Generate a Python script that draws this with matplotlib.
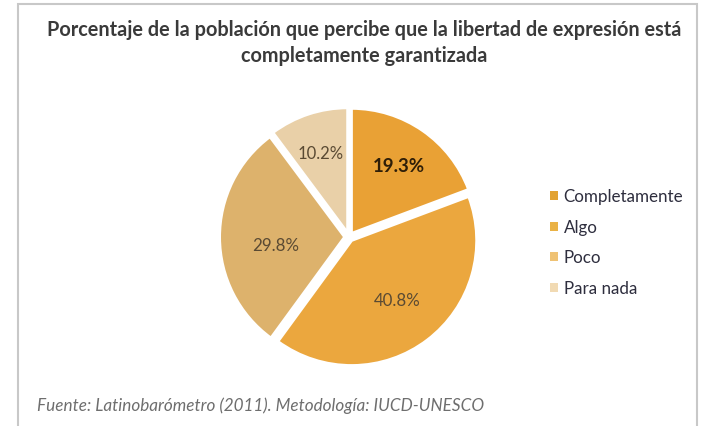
import matplotlib.pyplot as plt
from matplotlib.patches import Rectangle, Patch

categories = ['Completamente', 'Algo', 'Poco', 'Para nada']
values = [19.3, 40.8, 29.8, 10.2]
slice_colors = ['#E9A135', '#EBA73E', '#DDB26C', '#E9D0A8']
legend_colors = ['#E2A232', '#EAB245', '#EFC274', '#F1DAB3']
title_lines = ['Porcentaje de la población que percibe que la libertad de expresión está',
               'completamente garantizada']
source = 'Fuente: Latinobarómetro (2011). Metodología: IUCD-UNESCO'

plt.rcParams['font.family'] = ['Lato', 'DejaVu Sans']

W, H = 708, 427
fig = plt.figure(figsize=(W / 100, H / 100), dpi=100)
renderer = fig.canvas.get_renderer()


def fit_width(txt, target_px):
    # scale the font so the text is as wide as in the reference
    w = txt.get_window_extent(renderer).width
    txt.set_fontsize(txt.get_fontsize() * target_px / w)


def px(x, y):
    return x / W, 1 - y / H


# frame of the chart area
fig.patches.append(Rectangle((18 / W, -0.05), (697 - 18) / W, 1.05 - 5 / H,
                             transform=fig.transFigure, fill=False,
                             edgecolor='#C8C8C8', linewidth=1.5))

t1 = fig.text(*px(364, 30), title_lines[0], ha='center', va='center',
              fontsize=12, fontweight='bold', color='#3A3A3A')
fit_width(t1, 628)
t2 = fig.text(*px(364, 56), title_lines[1], ha='center', va='center',
              fontsize=t1.get_fontsize(), fontweight='bold', color='#3A3A3A')

# pie axes: center (349, 238), radius ~125 px
cx, cy, rad = 349, 238, 125
half = rad * 1.08
ax = fig.add_axes([(cx - half) / W, 1 - (cy + half) / H, 2 * half / W, 2 * half / H])
wedges, texts, autotexts = ax.pie(values, colors=slice_colors, startangle=90,
                                  counterclock=False, explode=[0.035] * 4,
                                  autopct='%.1f%%', pctdistance=0.6,
                                  wedgeprops=dict(edgecolor='white', linewidth=2))
ax.set_xlim(-1.08, 1.08)
ax.set_ylim(-1.08, 1.08)
ax.set_aspect('equal')
ax.axis('off')

label_scale = [1.1, 1.0, 0.92, 1.12]
for i, t in enumerate(autotexts):
    x, y = t.get_position()
    t.set_position((x * label_scale[i], y * label_scale[i]))
    t.set_color('#5A4A33')
    t.set_fontsize(11)
    if i == 0:
        t.set_fontweight('bold')
        t.set_color('#2E1E08')
    if i == 2:
        t.set_va('top')
for i, t in enumerate(autotexts):
    if i == 0:
        fit_width(t, 52)
    else:
        fit_width(t, 47 if i != 3 else 46)

handles = [Patch(facecolor=c, edgecolor='none') for c in legend_colors]
leg = fig.legend(handles, categories, loc='center left', bbox_to_anchor=px(536, 243),
                 frameon=False, fontsize=11, handlelength=0.55, handleheight=0.55,
                 handletextpad=0.35, labelspacing=0.95, labelcolor='#2E2E3E')
lw = leg.get_texts()[0].get_window_extent(renderer).width
for t in leg.get_texts():
    t.set_fontsize(11 * 119 / lw)

src = fig.text(*px(37, 406), source, ha='left', va='center', fontsize=10,
               style='italic', color='#6E6E6E')
fit_width(src, 446)

fig.savefig('out.png', dpi=100)
